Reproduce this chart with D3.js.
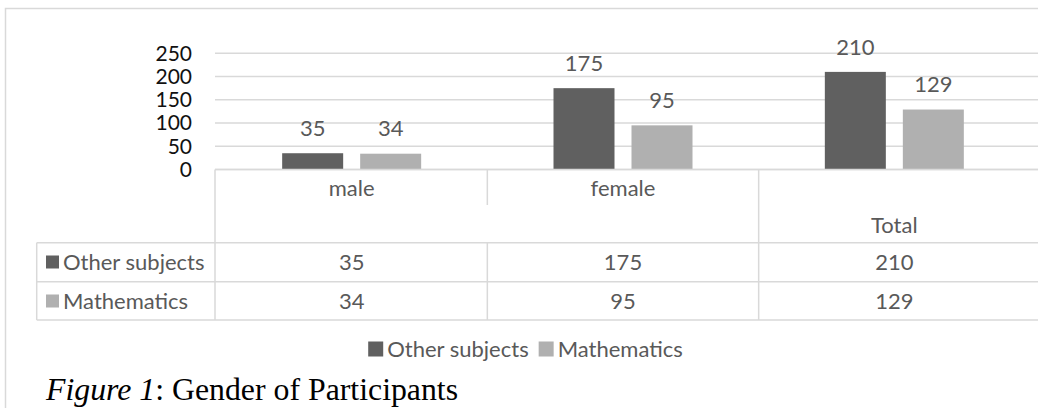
<!DOCTYPE html>
<html>
<head>
<meta charset="utf-8">
<script src="https://cdn.jsdelivr.net/npm/d3@7"></script>
<style>
  body { margin: 0; background: #fff; }
  svg { display: block; }
  text { font-family: Lato, "Open Sans", sans-serif; }
</style>
</head>
<body>
<script>
// data
var categories = ["male", "female", "Total"];
var seriesNames = ["Other subjects", "Mathematics"];
var otherSubjects = [35, 175, 210];
var mathematics = [34, 95, 129];
var yTicks = [0, 50, 100, 150, 200, 250];
var seriesColors = ["#606060", "#b0b0b0"];

var W = 1038, H = 408;
var gridColor = "#d9d9d9", labelColor = "#595959";
var fs = 22;

var series = [otherSubjects, mathematics];

var svg = d3.select("body").append("svg")
  .attr("width", W)
  .attr("height", H);

// outer frame (runs off right/bottom)
svg.append("rect")
  .attr("x", 5.5).attr("y", 8.5)
  .attr("width", W + 20).attr("height", H + 20)
  .attr("fill", "none")
  .attr("stroke", gridColor)
  .attr("stroke-width", 1.5);

var y = d3.scaleLinear().domain([0, 250]).range([169.5, 53.3]);
var x = d3.scaleBand().domain(categories).range([216, 1030]);
var barW = 61, gap = 17;

// gridlines
svg.selectAll(".grid")
  .data(yTicks).enter()
  .append("line")
  .attr("class", "grid")
  .attr("x1", 215).attr("x2", W)
  .attr("y1", function(d) {return y(d);})
  .attr("y2", function(d) {return y(d);})
  .attr("stroke", gridColor)
  .attr("stroke-width", 1.5);

// y tick labels
svg.selectAll(".ytick")
  .data(yTicks).enter()
  .append("text")
  .attr("class", "ytick")
  .attr("x", 192)
  .attr("y", function(d) {return y(d);})
  .attr("dy", "0.35em")
  .attr("text-anchor", "end")
  .attr("font-size", 21)
  .attr("fill", "#111")
  .text(function(d) {return d;});

// bars
function barX(ci, si) {
  var c = x(categories[ci]) + x.bandwidth() / 2;
  return c + (si - 0.5) * (barW + gap) - barW / 2;
}

var barData = [];
series.forEach(function(s, si) {
  s.forEach(function(v, ci) {
    barData.push({ci: ci, si: si, v: v});
  });
});

svg.selectAll(".bar")
  .data(barData).enter()
  .append("rect")
  .attr("class", "bar")
  .attr("x", function(d) {return barX(d.ci, d.si);})
  .attr("y", function(d) {return y(d.v);})
  .attr("width", barW)
  .attr("height", function(d) {return y(0) - y(d.v);})
  .attr("fill", function(d) {return seriesColors[d.si];});

svg.selectAll(".vlabel")
  .data(barData).enter()
  .append("text")
  .attr("class", "vlabel")
  .attr("x", function(d) {return barX(d.ci, d.si) + barW / 2;})
  .attr("y", function(d) {return y(d.v) - 25;})
  .attr("dy", "0.35em")
  .attr("text-anchor", "middle")
  .attr("font-size", fs)
  .attr("fill", labelColor)
  .text(function(d) {return d.v;});

// data table
var tTop = y(0), hdrBot = 242.7, row1Bot = 281.7, row2Bot = 320;
var tLeft = 36.7, colLeft = 215;

var hLines = [
  {x1: colLeft, y: tTop},
  {x1: tLeft, y: hdrBot},
  {x1: tLeft, y: row1Bot},
  {x1: tLeft, y: row2Bot}
];
svg.selectAll(".hline")
  .data(hLines).enter()
  .append("line")
  .attr("x1", function(d) {return d.x1;}).attr("x2", W)
  .attr("y1", function(d) {return d.y;}).attr("y2", function(d) {return d.y;})
  .attr("stroke", gridColor).attr("stroke-width", 1.5);

var vLines = [
  {x: tLeft, y1: hdrBot, y2: row2Bot},
  {x: colLeft, y1: tTop, y2: row2Bot},
  {x: x("female"), y1: tTop, y2: 205},
  {x: x("female"), y1: hdrBot, y2: row2Bot},
  {x: x("Total"), y1: tTop, y2: row2Bot}
];
svg.selectAll(".vline")
  .data(vLines).enter()
  .append("line")
  .attr("x1", function(d) {return d.x;}).attr("x2", function(d) {return d.x;})
  .attr("y1", function(d) {return d.y1;}).attr("y2", function(d) {return d.y2;})
  .attr("stroke", gridColor).attr("stroke-width", 1.5);

// header labels: last category sits lower
svg.selectAll(".cat")
  .data(categories).enter()
  .append("text")
  .attr("x", function(d) {return x(d) + x.bandwidth() / 2;})
  .attr("y", function(d, i) {return i == categories.length - 1 ? 225 : 188;})
  .attr("dy", "0.35em")
  .attr("text-anchor", "middle")
  .attr("font-size", fs)
  .attr("fill", labelColor)
  .text(function(d) {return d;});

var rowY = [262, 301];
series.forEach(function(s, si) {
  svg.append("rect")
    .attr("x", 46).attr("y", rowY[si] - 6.5)
    .attr("width", 13).attr("height", 13)
    .attr("fill", seriesColors[si]);
  svg.append("text")
    .attr("x", 63).attr("y", rowY[si])
    .attr("dy", "0.35em")
    .attr("font-size", fs)
    .attr("fill", labelColor)
    .text(seriesNames[si]);
  svg.selectAll(".cell" + si)
    .data(s).enter()
    .append("text")
    .attr("x", function(d, ci) {return x(categories[ci]) + x.bandwidth() / 2;})
    .attr("y", rowY[si])
    .attr("dy", "0.35em")
    .attr("text-anchor", "middle")
    .attr("font-size", fs)
    .attr("fill", labelColor)
    .text(function(d) {return d;});
});

// legend
var legend = svg.append("g");
var lx = 0;
seriesNames.forEach(function(name, si) {
  legend.append("rect")
    .attr("x", lx).attr("y", -7.5)
    .attr("width", 15).attr("height", 15)
    .attr("fill", seriesColors[si]);
  var t = legend.append("text")
    .attr("x", lx + 19).attr("y", 0)
    .attr("dy", "0.35em")
    .attr("font-size", fs)
    .attr("fill", labelColor)
    .text(name);
  lx += 19 + t.node().getComputedTextLength() + 10;
});
var legW = lx - 10;
legend.attr("transform", "translate(" + (525.5 - legW / 2) + ",349)");

// caption
var cap = svg.append("text")
  .attr("x", 46).attr("y", 400)
  .style("font-family", "'Liberation Serif', 'Times New Roman', serif")
  .attr("font-size", 31.8)
  .attr("fill", "#000");
cap.append("tspan").attr("font-style", "italic").text("Figure 1");
cap.append("tspan").text(": Gender of Participants");
</script>
</body>
</html>
